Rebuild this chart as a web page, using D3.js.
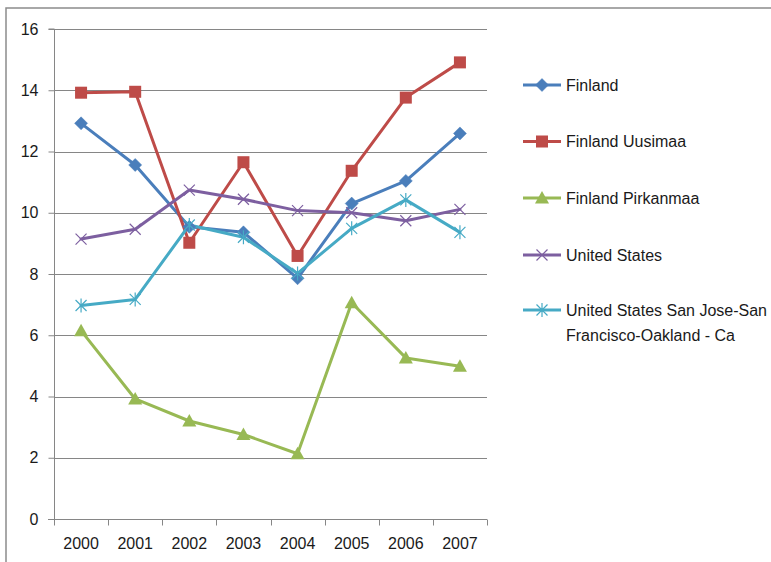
<!DOCTYPE html>
<html><head><meta charset="utf-8">
<script src="https://cdn.jsdelivr.net/npm/d3@7"></script>
<style>body{margin:0;background:#fff}svg{display:block;font-family:"Liberation Sans",Arial,sans-serif}</style>
</head><body><svg id="c" width="771" height="562"></svg>
<script>
const years = ["2000","2001","2002","2003","2004","2005","2006","2007"];
const yTicks = [0,2,4,6,8,10,12,14,16];
const finland = [12.92,11.56,9.54,9.36,7.86,10.30,11.04,12.59];
const uusimaa = [13.92,13.95,9.02,11.65,8.59,11.37,13.76,14.91];
const pirkanmaa = [6.15,3.92,3.20,2.76,2.13,7.06,5.26,4.99];
const unitedStates = [9.14,9.46,10.74,10.44,10.07,10.00,9.74,10.11];
const sanJose = [6.97,7.17,9.60,9.20,8.02,9.49,10.42,9.36];
const seriesNames = ["Finland","Finland Uusimaa","Finland Pirkanmaa","United States","United States San Jose-San Francisco-Oakland - Ca"];

const series = [
  {name:seriesNames[0], values:finland, color:"#4A7EBB", marker:"diamond"},
  {name:seriesNames[1], values:uusimaa, color:"#BE4B48", marker:"square"},
  {name:seriesNames[2], values:pirkanmaa, color:"#98B954", marker:"triangle"},
  {name:seriesNames[3], values:unitedStates, color:"#7D5FA0", marker:"x"},
  {name:seriesNames[4], values:sanJose, color:"#46AAC5", marker:"star"}
];

const svg = d3.select("#c");
const L=54, R=487, T=29, B=519;
const x = d3.scaleBand().domain(years).range([L,R]);
const y = d3.scaleLinear().domain([0,16]).range([B,T]);

// outer border
svg.append("path").attr("d","M6,562 L6,8 L771,8").attr("fill","none").attr("stroke","#8c8c8c").attr("stroke-width",1.5);

// gridlines
svg.append("g").selectAll("line").data(yTicks.filter(d=>d>0)).join("line")
  .attr("x1",L).attr("x2",R).attr("y1",d=>Math.round(y(d))+0.5).attr("y2",d=>Math.round(y(d))+0.5)
  .attr("stroke","#868686").attr("stroke-width",1);

// y axis
const ya = svg.append("g").attr("transform",`translate(${L+0.5},0)`)
  .call(d3.axisLeft(y).tickValues(yTicks).tickSize(6).tickPadding(10));
ya.select(".domain").attr("stroke","#868686").attr("d",`M-6,${y(16)}H0V${y(0)}`);
ya.selectAll(".tick line").attr("stroke","#868686");
ya.selectAll(".tick text").attr("font-size",16).attr("fill","#1a1a1a").attr("font-family","Liberation Sans, Arial, sans-serif");

// x axis
const xa = svg.append("g").attr("transform",`translate(0,${Math.round(B)+0.5})`)
  .call(d3.axisBottom(x).tickSize(0).tickPadding(18));
xa.select(".domain").attr("stroke","#868686").attr("d",`M${L-6},0H${R}`);
xa.selectAll(".tick text").attr("font-size",16).attr("fill","#1a1a1a").attr("font-family","Liberation Sans, Arial, sans-serif");
xa.append("g").selectAll("line").data(d3.range(years.length+1)).join("line")
  .attr("x1",i=>Math.round(L+i*x.step())+0.5).attr("x2",i=>Math.round(L+i*x.step())+0.5)
  .attr("y1",0).attr("y2",6).attr("stroke","#868686");

function drawMarker(g, type, color){
  if(type==="diamond"){
    g.append("path").attr("d","M0,-6.5L6.5,0L0,6.5L-6.5,0Z").attr("fill",color).attr("stroke",color).attr("stroke-width",0.5);
  } else if(type==="square"){
    g.append("rect").attr("x",-6).attr("y",-6).attr("width",12).attr("height",12).attr("fill",color);
  } else if(type==="triangle"){
    g.append("path").attr("d","M0,-7L7,5.5L-7,5.5Z").attr("fill",color);
  } else if(type==="x"){
    g.append("path").attr("d","M-5.5,-5.5L5.5,5.5M-5.5,5.5L5.5,-5.5").attr("stroke",color).attr("stroke-width",1.2).attr("fill","none");
  } else if(type==="star"){
    g.append("path").attr("d","M-5.5,-5.5L5.5,5.5M-5.5,5.5L5.5,-5.5M0,-7L0,7").attr("stroke",color).attr("stroke-width",1.2).attr("fill","none");
  }
}

const line = d3.line().x((d,i)=>x(years[i])+x.bandwidth()/2).y(d=>y(d));
series.forEach(s=>{
  svg.append("path").datum(s.values).attr("d",line).attr("fill","none")
    .attr("stroke",s.color).attr("stroke-width",3).attr("stroke-linejoin","round").attr("stroke-linecap","round");
});
series.forEach(s=>{
  s.values.forEach((v,i)=>{
    const g = svg.append("g").attr("transform",`translate(${x(years[i])+x.bandwidth()/2},${y(v)})`);
    drawMarker(g, s.marker, s.color);
  });
});

// legend
const legY = [85,141.5,198,255,310];
series.forEach((s,i)=>{
  const g = svg.append("g").attr("transform",`translate(0,${legY[i]})`);
  g.append("line").attr("x1",523).attr("x2",561).attr("y1",0).attr("y2",0).attr("stroke",s.color).attr("stroke-width",3);
  const m = g.append("g").attr("transform","translate(542,0)");
  drawMarker(m, s.marker, s.color);
  const t = g.append("text").attr("x",566).attr("y",0).attr("font-size",16).attr("fill","#1a1a1a");
  if(i===4){
    t.append("tspan").attr("x",566).attr("dy","0.35em").text("United States San Jose-San");
    t.append("tspan").attr("x",566).attr("dy","1.6em").text("Francisco-Oakland - Ca");
  } else {
    t.attr("dy","0.35em").text(s.name);
  }
});
</script></body></html>
